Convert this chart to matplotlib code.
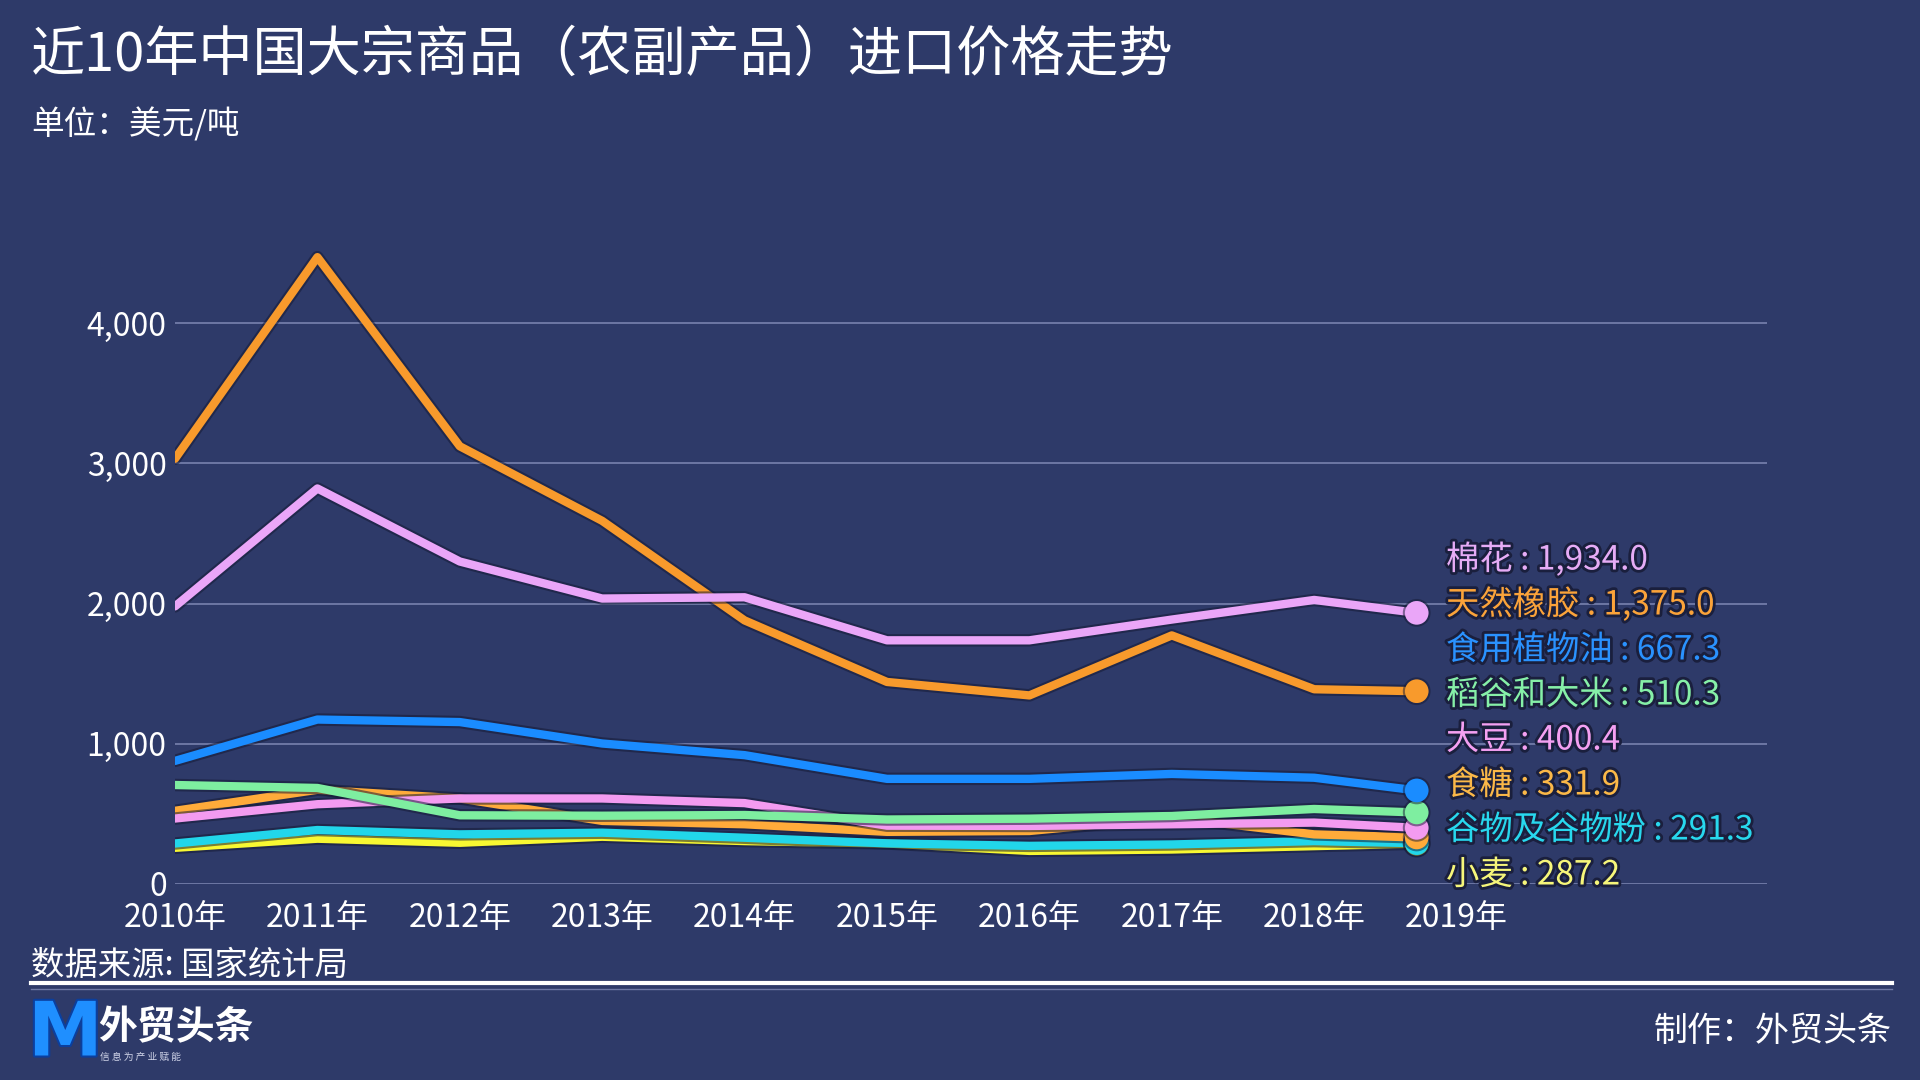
import matplotlib
matplotlib.use("Agg")
import matplotlib.pyplot as plt
import matplotlib.patheffects as pe
from matplotlib.lines import Line2D

plt.rcParams['font.family'] = ['Noto Sans CJK SC', 'DejaVu Sans']

# ---------------- data ----------------
years = [2010, 2011, 2012, 2013, 2014, 2015, 2016, 2017, 2018]
current_time = 2018.72          # animation frame position of the line heads
tick_years = [2010, 2011, 2012, 2013, 2014, 2015, 2016, 2017, 2018, 2019]
tick_labels = [f"{y}年" for y in tick_years]

series_names = ["棉花", "天然橡胶", "食用植物油", "稻谷和大米", "大豆", "食糖", "谷物及谷物粉", "小麦"]
cotton     = [1980, 2821, 2300, 2036, 2045, 1738, 1738, 1886, 2026]
rubber     = [3033, 4471, 3122, 2590, 1880, 1441, 1345, 1773, 1389]
veg_oil    = [878, 1173, 1155, 1002, 919, 750, 750, 785, 758]
rice       = [706, 685, 490, 487, 492, 460, 466, 485, 535]
soybean    = [467, 569, 610, 610, 577, 416, 414, 426, 438]
sugar      = [522, 672, 610, 450, 426, 372, 378, 474, 354]
grain      = [289, 385, 354, 366, 330, 290, 272, 282, 306]
wheat      = [258, 323, 294, 337, 306, 289, 236, 246, 270]
current_values = [1934.0, 1375.0, 667.3, 510.3, 400.4, 331.9, 291.3, 287.2]
series_values = [cotton, rubber, veg_oil, rice, soybean, sugar, grain, wheat]

line_colors  = ["#eaa6f8", "#f89a2c", "#1a8cff", "#7eeea0", "#f39bf0", "#ffab3a", "#22d6ea", "#f8f832"]
label_colors = ["#e6acf6", "#fba33a", "#2a92ff", "#86f0a8", "#f4a0f2", "#fbb848", "#28d8ee", "#f6f67a"]

y_ticks = [0, 1000, 2000, 3000, 4000]

BG = "#2e3a69"

# ---------------- figure ----------------
fig = plt.figure(figsize=(19.2, 10.8), dpi=100, facecolor=BG)
ax = fig.add_axes([175/1920, 1 - 884/1080, (1767-175)/1920, (884-211)/1080])
ax.set_facecolor(BG)
ax.set_xlim(2010, 2021.18)
ax.set_ylim(0, 4800)

for s in ax.spines.values():
    s.set_visible(False)

ax.set_yticks(y_ticks)
ax.set_yticklabels([f"{v:,}" for v in y_ticks])
ax.set_xticks(tick_years)
ax.set_xticklabels(tick_labels)
ax.tick_params(axis='both', length=0, labelcolor='white', labelsize=23)
ax.tick_params(axis='y', pad=6)
ax.tick_params(axis='x', pad=13)
ax.yaxis.grid(True, color="#8a93bf", linewidth=1.2, alpha=0.8)
ax.set_axisbelow(True)

shadow = [pe.Stroke(linewidth=9, foreground="#151a35", alpha=0.55), pe.Normal()]
for name, vals, cur, col in reversed(list(zip(series_names, series_values, current_values, line_colors))):
    xs = years + [current_time]
    ys = vals + [cur]
    ax.plot(xs, ys, color=col, linewidth=6, solid_joinstyle='round',
            solid_capstyle='round', path_effects=shadow, zorder=3)
    ax.plot([current_time], [cur], 'o', color=col, markersize=17,
            markeredgewidth=0, zorder=4,
            path_effects=[pe.Stroke(linewidth=3, foreground="#151a35", alpha=0.5), pe.Normal()])

# value labels at the right
label_x = 1446 / 1920
for i, (name, cur, col) in enumerate(zip(series_names, current_values, label_colors)):
    yy = 1 - (560 + i * 45) / 1080
    fig.text(label_x, yy, f"{name} : {cur:,.1f}", color=col, fontsize=24,
             ha='left', va='center',
             path_effects=[pe.withStroke(linewidth=4, foreground="#1a1f3d")])

# titles
fig.text(31/1920, 1 - 55/1080, "近10年中国大宗商品（农副产品）进口价格走势",
         color='white', fontsize=39, ha='left', va='center', fontweight='medium')
fig.text(31/1920, 1 - 124/1080, "单位：美元/吨", color='white', fontsize=23.5,
         ha='left', va='center')

# footer
fig.text(31/1920, 1 - 965/1080, "数据来源: 国家统计局", color='white', fontsize=24,
         ha='left', va='center')
fig.add_artist(Line2D([31/1920, 1892/1920], [1 - 983/1080, 1 - 983/1080],
                      color='white', linewidth=3, transform=fig.transFigure))
fig.add_artist(Line2D([31/1920, 1892/1920], [1 - 989/1080, 1 - 989/1080],
                      color='#8a93bf', linewidth=1, alpha=0.7, transform=fig.transFigure))
fig.text(1892/1920, 1 - 1031/1080, "制作：外贸头条", color='white', fontsize=24.5,
         ha='right', va='center')

# logo
fig.text(28/1920, 1 - 1035/1080, "M", color="#1f8fff", fontsize=54, fontweight='bold',
         family=['DejaVu Sans'], ha='left', va='center',
         path_effects=[pe.withStroke(linewidth=3, foreground="#0b3f9e")])
fig.text(98/1920, 1 - 1028/1080, "外贸头条", color='white', fontsize=28, fontweight='bold',
         ha='left', va='center')
fig.text(100/1920, 1 - 1057/1080, "信 息 为 产 业 赋 能", color='#d0d4e8', fontsize=7,
         ha='left', va='center')

fig.savefig("out.png", dpi=100, facecolor=BG)
